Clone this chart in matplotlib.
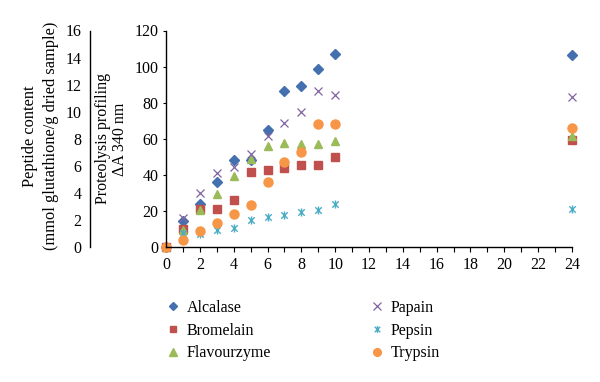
import matplotlib
matplotlib.use("Agg")
import matplotlib.pyplot as plt
from matplotlib.path import Path
import numpy as np

plt.rcParams['font.family'] = ['Liberation Serif', 'DejaVu Serif']

# hydrolysis time (h)
hours = [0, 1, 2, 3, 4, 5, 6, 7, 8, 9, 10, 24]

alcalase = [0, 14.5, 23.6, 36.0, 48.4, 48.0, 64.6, 86.2, 89.0, 98.4, 106.7, 106.4]
bromelain = [0, 9.8, 20.9, 21.0, 25.8, 41.4, 42.6, 43.8, 45.2, 45.4, 50.0, 59.4]
flavourzyme = [0, 9.6, 20.3, 29.5, 39.1, 48.6, 55.9, 57.6, 56.9, 56.9, 58.7, 61.8]
papain = [0, 16.2, 30.0, 40.8, 44.3, 51.7, 61.3, 68.7, 75.1, 86.2, 84.0, 83.4]
pepsin = [0, 7.9, 7.4, 9.2, 10.5, 14.8, 16.8, 17.5, 19.4, 20.7, 23.6, 21.2]
trypsin = [0, 4.1, 8.7, 13.3, 18.3, 23.3, 36.0, 46.9, 52.6, 68.1, 68.1, 65.8]

names = ['Alcalase', 'Bromelain', 'Flavourzyme', 'Papain', 'Pepsin', 'Trypsin']
colors = ['#4470B0', '#C0504D', '#9BBB59', '#8064A2', '#4BACC6', '#F79646']

# excel style "star" marker: x with a vertical bar
star = Path([(-1, -1), (1, 1), (-1, 1), (1, -1), (0, -1.25), (0, 1.25)],
            [Path.MOVETO, Path.LINETO, Path.MOVETO, Path.LINETO, Path.MOVETO, Path.LINETO])

styles = [
    dict(marker='D', ms=5.2),
    dict(marker='s', ms=5.8),
    dict(marker='^', ms=6.3),
    dict(marker='x', ms=6.0, mew=0.9),
    dict(marker=star, ms=5.8, mew=1.0),
    dict(marker='o', ms=6.5),
]

W, H = 600, 382
fig = plt.figure(figsize=(W / 100, H / 100), dpi=100)

x0, x1 = 166, 572
y0, y1 = 247, 30.5
rect = [x0 / W, 1 - y0 / H, (x1 - x0) / W, (y0 - y1) / H]
ax = fig.add_axes(rect)

series = [alcalase, bromelain, flavourzyme, papain, pepsin, trypsin]
handles = []
for vals, name, col, st in zip(series, names, colors, styles):
    h, = ax.plot(hours, vals, linestyle='none', color=col, mec=col, mfc=col,
                 label=name, clip_on=False, **st)
    handles.append(h)

ax.set_xlim(0, 24)
ax.set_ylim(0, 120)
ax.set_xticks(range(0, 25))
ax.set_xticklabels([str(t) if t % 2 == 0 else '' for t in range(0, 25)])
ax.set_yticks(range(0, 121, 20))
for s in ['top', 'right']:
    ax.spines[s].set_visible(False)
for s in ['left', 'bottom']:
    ax.spines[s].set_linewidth(1.0)
    ax.spines[s].set_color('black')
ax.tick_params(axis='x', direction='out', length=3.5, width=0.8, pad=3.5, labelsize=11.5)
ax.tick_params(axis='y', direction='out', length=2.5, width=0.8, pad=3, labelsize=11.5)

# outer axis for peptide content
ax2 = fig.add_axes([90 / W, rect[1], 0.0001, rect[3]])
ax2.set_ylim(0, 16)
ax2.set_yticks(range(0, 17, 2))
ax2.set_xticks([])
ax2.patch.set_visible(False)
for s in ['top', 'right', 'bottom']:
    ax2.spines[s].set_visible(False)
ax2.spines['left'].set_linewidth(1.0)
ax2.tick_params(axis='y', length=0, pad=6, labelsize=11.5)

fig.text(40.5 / W, 1 - 136 / H, 'Peptide content\n(mmol glutathione/g dried sample)',
         rotation=90, ha='center', va='center', fontsize=11.8, multialignment='center',
         linespacing=1.4)
fig.text(111.5 / W, 1 - 139 / H, 'Proteolysis profiling\n\u0394A 340 nm',
         rotation=90, ha='center', va='center', fontsize=11.5, multialignment='center',
         linespacing=1.1)

leg_kw = dict(frameon=False, fontsize=11.5, handlelength=0.8, handletextpad=0.45,
              labelspacing=0.42, borderpad=0, borderaxespad=0, loc='upper left',
              markerscale=0.85)
leg1 = fig.legend(handles[:3], names[:3], bbox_to_anchor=(167 / W, 1 - 300 / H), **leg_kw)
leg2 = fig.legend(handles[3:], names[3:], bbox_to_anchor=(371 / W, 1 - 300 / H), **leg_kw)

fig.savefig('out.png', dpi=100)
